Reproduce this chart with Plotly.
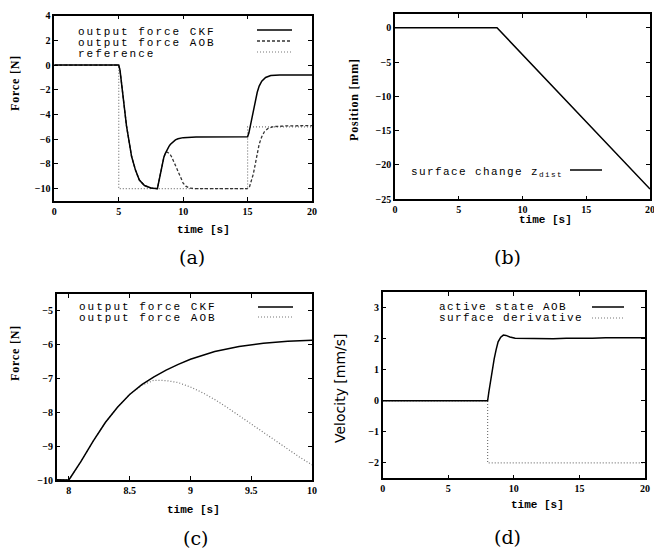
import plotly.graph_objects as go

W, H = 654, 557

# ---------------- data ----------------
# (a) / (c) forces
t_ckf = [0, 5.0, 5.1, 5.2, 5.4, 5.6, 5.8, 6.0, 6.3, 6.6, 7.0, 7.5, 8.0,
         8.1, 8.2, 8.3, 8.4, 8.5, 8.6, 8.7, 8.8, 8.9, 9.0, 9.2, 9.4, 9.6, 9.8, 10.0,
         11.0, 15.0, 15.1, 15.2, 15.3, 15.45, 15.6, 15.75, 15.9, 16.1, 16.4, 16.8, 17.5, 20.0]
f_ckf = [0, 0, -0.4, -1.2, -3.1, -4.9, -6.3, -7.4, -8.5, -9.3, -9.75, -9.95, -10.0,
         -9.45, -8.85, -8.3, -7.85, -7.47, -7.18, -6.95, -6.75, -6.58, -6.43, -6.2, -6.05, -5.96, -5.9, -5.87,
         -5.81, -5.8, -5.5, -5.0, -4.4, -3.6, -2.85, -2.2, -1.7, -1.3, -1.0, -0.85, -0.8, -0.8]

t_aob = [0, 5.0, 5.1, 5.2, 5.4, 5.6, 5.8, 6.0, 6.3, 6.6, 7.0, 7.5, 8.0,
         8.1, 8.2, 8.3, 8.4, 8.5, 8.6, 8.7, 8.8, 8.9, 9.0, 9.1, 9.2, 9.3, 9.4, 9.5, 9.6,
         9.7, 9.8, 9.9, 10.0, 10.2, 10.5, 11.0, 15.0, 15.15, 15.3, 15.45, 15.6, 15.75,
         15.9, 16.1, 16.3, 16.6, 17.0, 18.0, 20.0]
f_aob = [0, 0, -0.4, -1.2, -3.1, -4.9, -6.3, -7.4, -8.5, -9.3, -9.75, -9.95, -10.0,
         -9.45, -8.85, -8.3, -7.85, -7.47, -7.2, -7.05, -7.06, -7.12, -7.25, -7.42, -7.62, -7.85, -8.1, -8.35, -8.6,
         -8.85, -9.1, -9.33, -9.55, -9.8, -9.95, -10.0, -10.0, -9.85, -9.4, -8.8, -8.0, -7.2,
         -6.4, -5.8, -5.4, -5.12, -4.98, -4.92, -4.9]

t_ref = [0, 5, 5, 15, 15, 20]
f_ref = [0, 0, -10, -10, -5, -5]

# (b) surface position
t_surf = [0, 8, 20]
z_surf = [0, 0, -23.5]

# (d) velocities
t_act = [0, 8.0, 8.1, 8.2, 8.35, 8.5, 8.65, 8.8, 9.0, 9.2, 9.4, 9.7, 10.1, 11, 12, 13, 14, 15, 16, 17, 18, 19, 20]
v_act = [0, 0, 0.3, 0.6, 1.0, 1.35, 1.65, 1.9, 2.05, 2.12, 2.11, 2.06, 2.02, 2.01, 2.0, 2.0, 2.02, 2.01, 2.02, 2.03, 2.04, 2.03, 2.03]
t_der = [0, 8, 8, 20]
v_der = [0, 0, -2, -2]

# ---------------- layout helpers ----------------
def px(x):
    return x / W

def py(y):
    return 1 - y / H

TICKFONT = dict(family="Liberation Serif", size=10, color="black", weight="bold")
MONO = "Liberation Mono"

fig = go.Figure()

SOLID = dict(color="black", width=1.5)
DASH = dict(color="#333333", width=1.3, dash="3px,2px")
DOT = dict(color="#777777", width=1.2, dash="1px,2px")

# (a)
fig.add_trace(go.Scatter(x=t_ref, y=f_ref, mode="lines", line=DOT, xaxis="x", yaxis="y", showlegend=False))
fig.add_trace(go.Scatter(x=t_aob, y=f_aob, mode="lines", line=DASH, xaxis="x", yaxis="y", showlegend=False))
fig.add_trace(go.Scatter(x=t_ckf, y=f_ckf, mode="lines", line=SOLID, xaxis="x", yaxis="y", showlegend=False))
# (b)
fig.add_trace(go.Scatter(x=t_surf, y=z_surf, mode="lines", line=SOLID, xaxis="x2", yaxis="y2", showlegend=False))
# (c)
fig.add_trace(go.Scatter(x=t_aob, y=f_aob, mode="lines", line=DOT, xaxis="x3", yaxis="y3", showlegend=False))
fig.add_trace(go.Scatter(x=t_ckf, y=f_ckf, mode="lines", line=SOLID, xaxis="x3", yaxis="y3", showlegend=False))
# (d)
fig.add_trace(go.Scatter(x=t_der, y=v_der, mode="lines", line=DOT, xaxis="x4", yaxis="y4", showlegend=False))
fig.add_trace(go.Scatter(x=t_act, y=v_act, mode="lines", line=SOLID, xaxis="x4", yaxis="y4", showlegend=False))

def ax(domain, rng, dtick, tick0=None, anchor=None):
    d = dict(domain=domain, range=rng, dtick=dtick, tickmode="linear", automargin=False,
             ticks="inside", ticklen=4, tickcolor="black", tickwidth=1,
             showline=True, linecolor="black", linewidth=1.5, mirror="ticks",
             showgrid=False, zeroline=False, tickfont=TICKFONT, anchor=anchor,
             ticklabeloverflow="allow")
    if tick0 is not None:
        d["tick0"] = tick0
    return d

fig.update_layout(
    template="none",
    width=W, height=H, margin=dict(l=0, r=0, t=0, b=0, autoexpand=False),
    paper_bgcolor="white", plot_bgcolor="white",
    xaxis=ax([px(54.3), px(312)], [0, 20], 5, anchor="y"),
    yaxis=ax([py(201), py(15.7)], [-11, 4], 2, tick0=0, anchor="x"),
    xaxis2=ax([px(395), px(650)], [0, 20], 5, anchor="y2"),
    yaxis2=ax([py(199.3), py(14)], [-25, 2], 5, tick0=0, anchor="x2"),
    xaxis3=ax([px(56.7), px(312)], [7.9, 10], 0.5, tick0=8, anchor="y3"),
    yaxis3=ax([py(480), py(294)], [-10, -4.5], 1, tick0=-10, anchor="x3"),
    xaxis4=ax([px(382.7), px(645)], [0, 20], 5, anchor="y4"),
    yaxis4=ax([py(478.3), py(292.3)], [-2.5, 3.5], 1, tick0=0, anchor="x4"),
)

annotations = []
shapes = []

def text(x, y, s, size, family=MONO, angle=0, xanchor="center", weight="normal", spacing=None):
    if spacing is not None:
        s = '<span style="letter-spacing:%spx">%s</span>' % (spacing, s)
    annotations.append(dict(x=px(x), y=py(y), xref="paper", yref="paper", text=s,
                            showarrow=False, textangle=angle, xanchor=xanchor, yanchor="middle",
                            borderpad=0,
                            font=dict(family=family, size=size, color="black", weight=weight)))

def sample(x0, x1, y, line):
    shapes.append(dict(type="line", xref="paper", yref="paper", x0=px(x0), x1=px(x1),
                       y0=py(y), y1=py(y), line=line))

# axis titles
text(15, 83, "Force [N]", 12, family="Liberation Serif", angle=-90, weight="bold", spacing=0.8)
text(203, 230, "time [s]", 11, weight="bold")
text(354, 100, "Position [mm]", 12, family="Liberation Serif", angle=-90, weight="bold", spacing=0.8)
text(545, 220, "time [s]", 11, weight="bold")
text(15, 353, "Force [N]", 12, family="Liberation Serif", angle=-90, weight="bold", spacing=0.8)
text(193, 510, "time [s]", 11, weight="bold")
text(340, 388, "Velocity [mm/s]", 14, family="DejaVu Sans", angle=-90)
text(537, 505, "time [s]", 11, weight="bold")

# legends
text(77, 32, "output force CKF", 11, xanchor="left", spacing=2.0)
text(77, 43, "output force AOB", 11, xanchor="left", spacing=2.0)
text(77, 54, "reference", 11, xanchor="left", spacing=2.0)
sample(257, 292, 30, SOLID)
sample(257, 292, 41, DASH)
sample(257, 292, 52, DOT)

text(410, 172, "surface change z<sub>dist</sub>", 11, xanchor="left", spacing=1.4)
sample(570, 602, 170, SOLID)

text(78, 307, "output force CKF", 11, xanchor="left", spacing=2.0)
text(78, 318, "output force AOB", 11, xanchor="left", spacing=2.0)
sample(258, 293, 307, SOLID)
sample(258, 293, 317, DOT)

text(438, 307, "active state AOB", 11, xanchor="left", spacing=1.4)
text(438, 318, "surface derivative", 11, xanchor="left", spacing=1.4)
sample(592, 624, 307, SOLID)
sample(592, 624, 318, DOT)

# captions
text(192, 257, "(a)", 19, family="DejaVu Serif")
text(507, 257, "(b)", 19, family="DejaVu Serif")
text(195, 538, "(c)", 19, family="DejaVu Serif")
text(507, 537, "(d)", 19, family="DejaVu Serif")

fig.update_layout(annotations=annotations, shapes=shapes)

fig.write_html("out.html", config={"displayModeBar": False},
               post_script="document.body.style.margin='0';document.body.style.padding='0';")
